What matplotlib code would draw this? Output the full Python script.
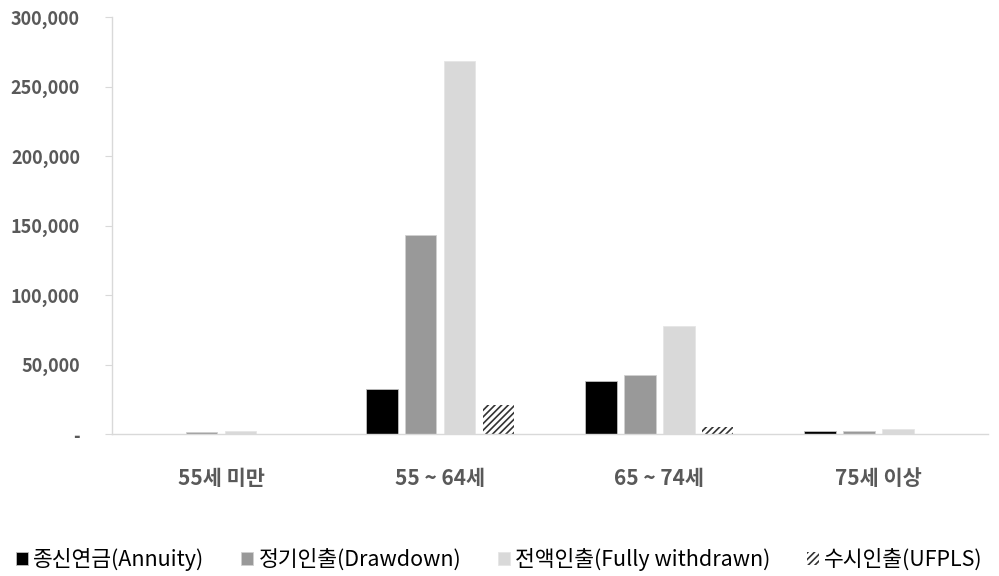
import matplotlib
matplotlib.use("Agg")
import matplotlib.pyplot as plt
import numpy as np

plt.rcParams['font.family'] = ['Noto Sans CJK KR', 'DejaVu Sans']
plt.rcParams['hatch.linewidth'] = 1.2

categories = ["55세 미만", "55 ~ 64세", "65 ~ 74세", "75세 이상"]
series_names = ["종신연금(Annuity)", "정기인출(Drawdown)", "전액인출(Fully withdrawn)", "수시인출(UFPLS)"]
annuity = [0, 32300, 38300, 2600]
drawdown = [1700, 143100, 42400, 2400]
fully_withdrawn = [2600, 268700, 77700, 3800]
ufpls = [0, 21000, 5400, 0]
yticks = [0, 50000, 100000, 150000, 200000, 250000, 300000]

fig = plt.figure(figsize=(9.99, 5.76), dpi=100)
ax = fig.add_axes([0.112, 0.246, 0.877, 0.7245])

x = np.arange(len(categories))
w = 0.142
step = 0.178
offsets = [-1.5 * step, -0.5 * step, 0.5 * step, 1.5 * step]
label_color = '#595959'

ax.bar(x + offsets[0], annuity, w, color='black', edgecolor='#bfbfbf', linewidth=0.6, label=series_names[0])
ax.bar(x + offsets[1], drawdown, w, color='#999999', edgecolor='#d0d0d0', linewidth=0.6, label=series_names[1])
ax.bar(x + offsets[2], fully_withdrawn, w, color='#d9d9d9', edgecolor='#e6e6e6', linewidth=0.6, label=series_names[2])
ax.bar(x + offsets[3], ufpls, w, color='white', edgecolor='#333333', linewidth=0, hatch='/////', label=series_names[3])

ax.set_xlim(-0.5, len(categories) - 0.5)
ax.set_ylim(0, 300000)
ax.set_yticks(yticks)
ax.set_yticklabels(['-' if v == 0 else f"{v:,}" for v in yticks])
ax.set_xticks(x)
ax.set_xticklabels(categories)

for s in ['top', 'right']:
    ax.spines[s].set_visible(False)
ax.spines['left'].set_color('#d9d9d9')
ax.spines['bottom'].set_color('#d9d9d9')
ax.spines['left'].set_linewidth(1.0)
ax.spines['bottom'].set_linewidth(1.0)

ax.tick_params(axis='y', length=5, color='#d9d9d9', pad=18, labelsize=13, labelcolor=label_color)
ax.tick_params(axis='x', length=0, pad=24, labelsize=15, labelcolor=label_color)
for t in ax.get_yticklabels() + ax.get_xticklabels():
    t.set_fontweight('bold')

leg = fig.legend(loc='lower center', bbox_to_anchor=(0.5, -0.025), ncol=4, frameon=False,
                 prop={'size': 15.5, 'weight': 'medium'}, handlelength=0.55, handleheight=0.55,
                 handletextpad=0.25, columnspacing=1.7)
for t in leg.get_texts():
    t.set_color('black')

fig.savefig('out.png', dpi=100)
